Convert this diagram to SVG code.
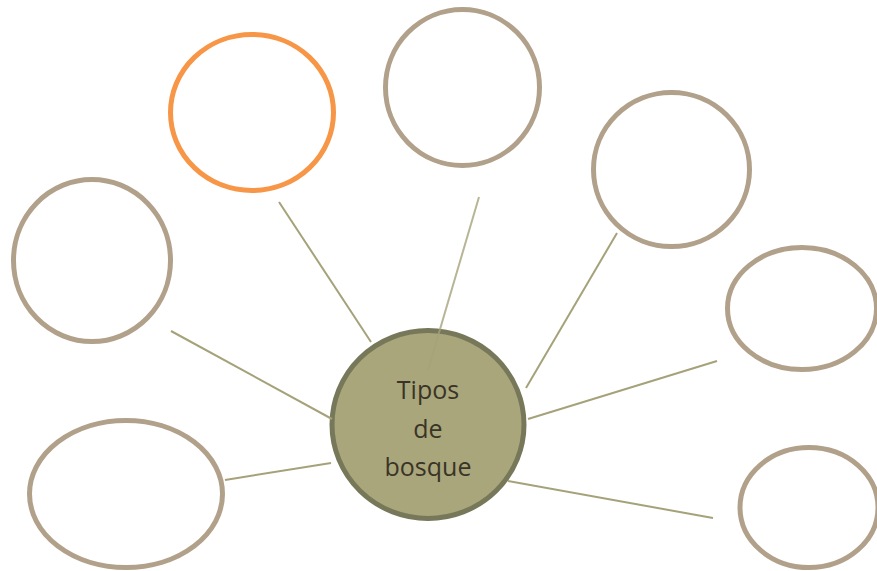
<svg xmlns="http://www.w3.org/2000/svg" width="877" height="571" viewBox="0 0 877 571">
<style>
.n{fill:#ffffff;stroke:#b2a18a;stroke-width:5}
.o{fill:#ffffff;stroke:#f79646;stroke-width:5}
.c{fill:#a9a67c;stroke:#77775a;stroke-width:5}
.e{stroke:#a5a27a;stroke-width:2;fill:none}
.t{font-family:"Open Sans","Liberation Sans",sans-serif;font-size:25px;fill:#3a3426;text-anchor:middle}
</style>
<rect width="877" height="571" fill="#ffffff"/>
<g id="n-left"><ellipse class="n" cx="92" cy="260.5" rx="78.5" ry="81"/></g>
<g id="n-bottomleft"><ellipse class="n" cx="126" cy="494" rx="96.5" ry="73.5"/></g>
<g id="n-orange"><ellipse class="o" cx="252" cy="112.5" rx="81.5" ry="78"/></g>
<g id="n-top"><ellipse class="n" cx="462.5" cy="87.5" rx="77" ry="78"/></g>
<g id="n-upperright"><ellipse class="n" cx="671.5" cy="169.5" rx="78" ry="77"/></g>
<g id="n-right"><ellipse class="n" cx="802" cy="308.5" rx="74.5" ry="61"/></g>
<g id="n-bottomright"><ellipse class="n" cx="809" cy="507.5" rx="69" ry="60"/></g>
<g id="n-center">
<ellipse class="c" cx="428" cy="424.5" rx="96" ry="94"/>
<text class="t" x="428" y="399">Tipos</text>
<text class="t" x="428" y="438">de</text>
<text class="t" x="428" y="476">bosque</text>
</g>
<g id="connectors">
<line class="e" x1="279" y1="202" x2="371" y2="342"/>
<line class="e" x1="479" y1="197" x2="428" y2="370" opacity="0.8"/>
<line class="e" x1="617" y1="233" x2="526" y2="388"/>
<line class="e" x1="717" y1="361" x2="528" y2="419"/>
<line class="e" x1="713" y1="518" x2="508" y2="481"/>
<line class="e" x1="171" y1="331" x2="332" y2="419"/>
<line class="e" x1="225" y1="480" x2="331" y2="463"/>
</g>
</svg>
